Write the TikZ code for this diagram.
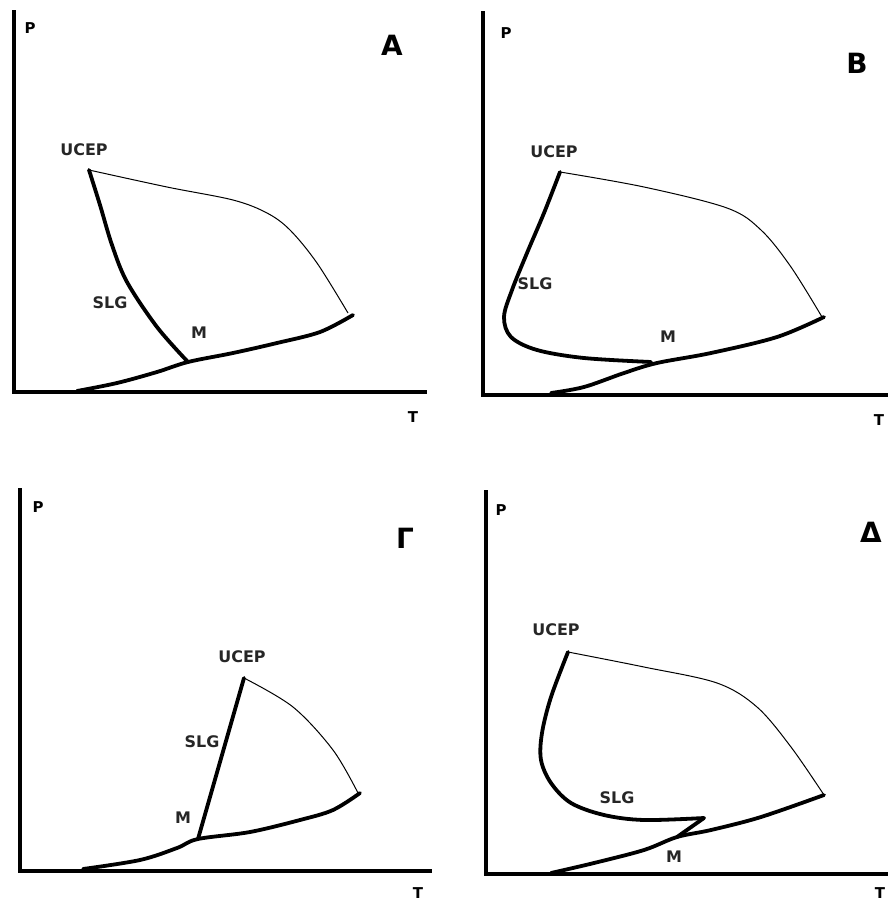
\documentclass[tikz,border=0pt]{standalone}
\usepackage{fontspec}
\setmainfont{DejaVu Sans}
\begin{document}
\begin{tikzpicture}[x=1bp,y=-1bp,
  axisline/.style={line width=4bp, line cap=rect},
  phaseline/.style={line width=3.8bp, line cap=round, line join=round},
  criticalline/.style={line width=1bp},
  lbl/.style={font=\fontsize{16}{16}\selectfont\bfseries, text=black!85, inner sep=0pt},
  axlbl/.style={font=\fontsize{15}{15}\selectfont\bfseries, inner sep=0pt},
  paneltitle/.style={font=\fontsize{28}{28}\selectfont\bfseries, inner sep=0pt}]
\useasboundingbox (0,0) rectangle (888,901);
\clip (0,0) rectangle (888,901);
\fill[white] (0,0) rectangle (888,901);

% ---------- Panel A ----------
\coordinate (aP) at (14,12);
\coordinate (aT) at (425,392);
\coordinate (aU) at (89,170);
\coordinate (aM) at (188,362);
\coordinate (aE) at (353,315);
\draw[axisline] (aP) |- (aT);
\draw[criticalline] plot[smooth, tension=0.55] coordinates {(aU) (167,187) (233,200) (267,213) (290,230) (317,263) (348,313)};
\draw[phaseline] plot[smooth, tension=0.55] coordinates {(aU) (100,205) (112,245) (127,282) (157,327) (aM)};
\draw[phaseline] plot[smooth, tension=0.55] coordinates {(77,391) (117,383) (157,372) (aM) (233,353) (277,343) (320,332) (aE)};
\node[axlbl] (aPl) at (30,28) {P};
\node[axlbl] (aTl) at (413,417) {T};
\node[paneltitle] (aTitle) at (392,45) {A};
\node[lbl] (aUl) at (84,150) {UCEP};
\node[lbl] (aSl) at (110,303) {SLG};
\node[lbl] (aMl) at (199,333) {M};

% ---------- Panel B ----------
\coordinate (bP) at (483,13);
\coordinate (bT) at (890,395);
\coordinate (bU) at (560,172);
\coordinate (bM) at (657,363);
\coordinate (bE) at (824,317);
\draw[axisline] (bP) |- (bT);
\draw[criticalline] plot[smooth, tension=0.55] coordinates {(bU) (644,187) (727,208) (761,230) (791,267) (822,317)};
\draw[phaseline] plot[smooth, tension=0.55] coordinates {(bU) (544,213) (527,253) (512,290) (504,317) (511,337) (537,350) (584,358) (651,362)};
\draw[phaseline] plot[smooth, tension=0.55] coordinates {(551,393) (584,387) (624,373) (bM) (711,353) (777,337) (bE)};
\node[axlbl] (bPl) at (506,33) {P};
\node[axlbl] (bTl) at (879,420) {T};
\node[paneltitle] (bTitle) at (857,63) {B};
\node[lbl] (bUl) at (554,152) {UCEP};
\node[lbl] (bSl) at (535,284) {SLG};
\node[lbl] (bMl) at (668,337) {M};

% ---------- Panel Gamma ----------
\coordinate (cP) at (20,490);
\coordinate (cT) at (430,871);
\coordinate (cU) at (244,678);
\coordinate (cM) at (198,839);
\coordinate (cE) at (360,793);
\draw[axisline] (cP) |- (cT);
\draw[criticalline] plot[smooth, tension=0.55] coordinates {(cU) (293,707) (333,750) (358,793)};
\draw[phaseline] (cU) -- (cM);
\draw[phaseline] plot[smooth, tension=0.55] coordinates {(83,869) (140,860) (177,848) (cM) (250,832) (300,820) (333,810) (cE)};
\node[axlbl] (cPl) at (38,507) {P};
\node[axlbl] (cTl) at (418,893) {T};
\node[paneltitle] (cTitle) at (405,538) {Γ};
\node[lbl] (cUl) at (242,657) {UCEP};
\node[lbl] (cSl) at (202,742) {SLG};
\node[lbl] (cMl) at (183,818) {M};

% ---------- Panel Delta ----------
\coordinate (dP) at (486,492);
\coordinate (dT) at (890,874);
\coordinate (dU) at (568,652);
\coordinate (dM) at (677,837);
\coordinate (dK) at (704,818);
\coordinate (dE) at (824,795);
\draw[axisline] (dP) |- (dT);
\draw[criticalline] plot[smooth, tension=0.55] coordinates {(dU) (644,667) (717,683) (757,707) (791,747) (824,795)};
\draw[phaseline] plot[smooth, tension=0.55] coordinates {(dU) (551,697) (542,733) (541,760) (551,783) (571,803) (604,815) (644,820) (dK)};
\draw[phaseline] (dK) -- (dM);
\draw[phaseline] plot[smooth, tension=0.55] coordinates {(551,873) (594,863) (644,850) (dM) (711,830) (761,817) (dE)};
\node[axlbl] (dPl) at (501,510) {P};
\node[axlbl] (dTl) at (880,893) {T};
\node[paneltitle] (dTitle) at (871,532) {Δ};
\node[lbl] (dUl) at (556,630) {UCEP};
\node[lbl] (dSl) at (617,798) {SLG};
\node[lbl] (dMl) at (674,857) {M};
\end{tikzpicture}
\end{document}
